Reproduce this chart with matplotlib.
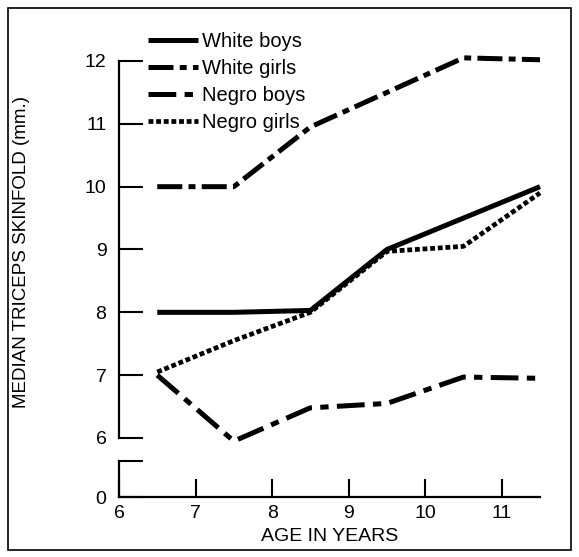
import matplotlib
matplotlib.use('Agg')
import matplotlib.pyplot as plt
from matplotlib.patches import Rectangle

plt.rc('font', family=['Liberation Sans', 'DejaVu Sans'], size=14)
plt.rcParams['lines.scale_dashes'] = False

# data
age = [6.5, 7.5, 8.5, 9.5, 10.5, 11.5]
white_boys = [8.0, 8.0, 8.03, 9.0, 9.5, 10.0]
white_girls = [10.0, 10.0, 10.95, 11.5, 12.05, 12.02]
negro_boys = [7.0, 5.95, 6.48, 6.55, 6.97, 6.95]
negro_girls = [7.05, 7.55, 8.0, 8.97, 9.05, 9.9]

y_ticks = [6, 7, 8, 9, 10, 11, 12]
x_ticks = [6, 7, 8, 9, 10, 11]

W, H = 579, 557
fig = plt.figure(figsize=(W / 100, H / 100), dpi=100)

# upper part of broken axis
ax = fig.add_axes([119 / W, 1 - 438 / H, 421 / W, (438 - 61) / H])
# lower stub with the zero
axb = fig.add_axes([119 / W, 1 - 497 / H, 421 / W, 36 / H])

styles = [
    (white_boys, 'White boys', dict(linestyle='-', linewidth=3.6)),
    (white_girls, 'White girls', dict(dashes=(18, 4.5, 5, 4.5), linewidth=3.6)),
    (negro_boys, 'Negro boys', dict(dashes=(20, 6, 6, 6), linewidth=3.6)),
    (negro_girls, 'Negro girls', dict(dashes=(3.5, 2.0), linewidth=3.4)),
]
for vals, lab, kw in styles:
    ax.plot(age, vals, color='black', label=lab, clip_on=False,
            solid_capstyle='butt', dash_capstyle='butt', **kw)

ax.set_xlim(6, 11.5)
ax.set_ylim(6, 12)
for s in ('top', 'right', 'bottom'):
    ax.spines[s].set_visible(False)
ax.spines['left'].set_linewidth(1.6)
ax.set_yticks(y_ticks)
ax.tick_params(axis='y', direction='in', length=17, width=1.5, pad=9)
ax.set_xticks([])

axb.set_xlim(6, 11.5)
axb.set_ylim(0, 1)
for s in ('top', 'right'):
    axb.spines[s].set_visible(False)
axb.spines['left'].set_linewidth(1.6)
axb.spines['bottom'].set_linewidth(1.6)
axb.set_yticks([0, 1])
axb.set_yticklabels(['0', ''])
axb.tick_params(axis='y', direction='in', length=17, width=1.5, pad=9)
axb.set_xticks(x_ticks)
axb.tick_params(axis='x', direction='in', length=13, width=1.5, pad=6)
axb.set_xlabel('AGE IN YEARS', fontsize=14, labelpad=4)

fig.text(22 / W, 1 - 252 / H, 'MEDIAN TRICEPS SKINFOLD (mm.)', rotation=90,
         ha='center', va='center', fontsize=13.5)

leg = ax.legend(loc='upper left', bbox_to_anchor=(138 / W, 1 - 22 / H),
                bbox_transform=fig.transFigure, frameon=False,
                handlelength=2.5, handletextpad=0.2, labelspacing=0.4,
                borderpad=0, fontsize=14.5)

# frame round the whole figure
fig.patches.append(Rectangle((8 / W, 7 / H), 563 / W, 542 / H, fill=False,
                             edgecolor='black', linewidth=1.2,
                             transform=fig.transFigure))

plt.savefig('out.png', dpi=100)
